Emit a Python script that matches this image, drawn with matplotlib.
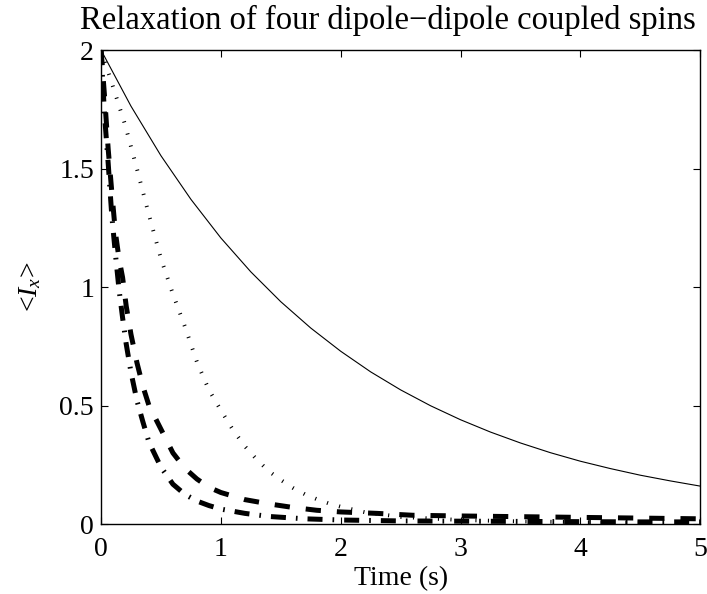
import matplotlib
matplotlib.use('Agg')
import matplotlib.pyplot as plt

# 폰트 설정 (Times 계열)
plt.rcParams['font.family'] = ['Liberation Serif', 'DejaVu Serif']
plt.rcParams['mathtext.fontset'] = 'custom'
plt.rcParams['mathtext.rm'] = 'Liberation Serif'
plt.rcParams['mathtext.it'] = 'Liberation Serif:italic'
plt.rcParams['lines.scale_dashes'] = False

# 데이터
t_solid = [0, 0.25, 0.5, 0.75, 1.0, 1.25, 1.5, 1.75, 2.0, 2.25, 2.5, 2.75,
           3.0, 3.25, 3.5, 3.75, 4.0, 4.25, 4.5, 4.75, 5.0]
y_solid = [2.00, 1.763, 1.554, 1.370, 1.207, 1.064, 0.938, 0.827, 0.729, 0.642,
           0.566, 0.499, 0.440, 0.388, 0.342, 0.301, 0.265, 0.234, 0.206, 0.182, 0.160]

t_dot = [0, 0.1, 0.2, 0.3, 0.4, 0.5, 0.6, 0.7, 0.8, 0.9, 1.0, 1.1, 1.2, 1.3,
         1.4, 1.5, 1.6, 1.7, 1.8, 1.9, 2.0, 2.2, 2.5, 3.0, 3.5, 4.0, 4.5, 5.0]
y_dot = [2.00, 1.845, 1.686, 1.498, 1.304, 1.12, 0.97, 0.833, 0.684, 0.566, 0.48,
         0.398, 0.328, 0.272, 0.223, 0.186, 0.153, 0.126, 0.105, 0.087, 0.073,
         0.050, 0.030, 0.017, 0.011, 0.008, 0.006, 0.005]

t_dash = [0, 0.03, 0.06, 0.09, 0.12, 0.15, 0.18, 0.21, 0.25, 0.3, 0.35, 0.4,
          0.5, 0.6, 0.7, 0.8, 0.9, 1.0, 1.2, 1.4, 1.6, 1.8, 2.0, 2.3, 2.6,
          3.0, 3.5, 4.0, 4.5, 5.0]
y_dash = [2.00, 1.80, 1.58, 1.40, 1.23, 1.12, 1.04, 0.92, 0.80, 0.68, 0.58, 0.50,
          0.40, 0.30, 0.235, 0.19, 0.155, 0.133, 0.103, 0.085, 0.070, 0.058,
          0.051, 0.045, 0.037, 0.034, 0.031, 0.028, 0.025, 0.022]

t_dashdot = [0, 0.03, 0.06, 0.09, 0.12, 0.15, 0.18, 0.21, 0.25, 0.3, 0.35, 0.4,
             0.5, 0.6, 0.7, 0.8, 0.9, 1.0, 1.2, 1.4, 1.7, 2.0, 2.5, 3.0, 3.5,
             4.0, 4.5, 5.0]
y_dashdot = [2.00, 1.72, 1.52, 1.30, 1.14, 0.99, 0.87, 0.76, 0.64, 0.52, 0.43,
             0.345, 0.24, 0.168, 0.125, 0.097, 0.078, 0.063, 0.045, 0.032, 0.022,
             0.017, 0.013, 0.012, 0.011, 0.010, 0.009, 0.009]

fig = plt.figure(figsize=(7.07, 5.94), dpi=100)
ax = fig.add_axes([0.1429, 0.1178, 0.8475, 0.798])

ax.plot(t_solid, y_solid, color='k', lw=0.8, linestyle='-')
ax.plot(t_dot, y_dot, color='k', lw=2.8, linestyle=(0, (0.8, 8.2)), dash_capstyle='butt')
ax.plot(t_dash, y_dash, color='k', lw=3.6, linestyle=(0, (11, 11.5)), dash_capstyle='butt')
ax.plot(t_dashdot, y_dashdot, color='k', lw=3.6, linestyle=(0, (10.8, 7.2, 1.2, 7.2)),
        dash_capstyle='butt')

ax.set_xlim(0, 5)
ax.set_ylim(0, 2)
ax.set_xticks([0, 1, 2, 3, 4, 5])
ax.set_yticks([0, 0.5, 1, 1.5, 2])
ax.set_yticklabels(['0', '0.5', '1', '1.5', '2'])
ax.tick_params(direction='in', top=True, right=True, length=5, width=0.8,
               labelsize=20, pad=5)
ax.tick_params(axis='x', pad=9)
for s in ax.spines.values():
    s.set_linewidth(1.0)

ax.set_title('Relaxation of four dipole\u2212dipole coupled spins', fontsize=23.5,
             pad=15, x=0.479)
ax.set_xlabel('Time (s)', fontsize=20, labelpad=3)
ax.set_ylabel(r'<$I_x$>', fontsize=20, labelpad=12)

plt.savefig('out.png', dpi=100)
plt.close()
